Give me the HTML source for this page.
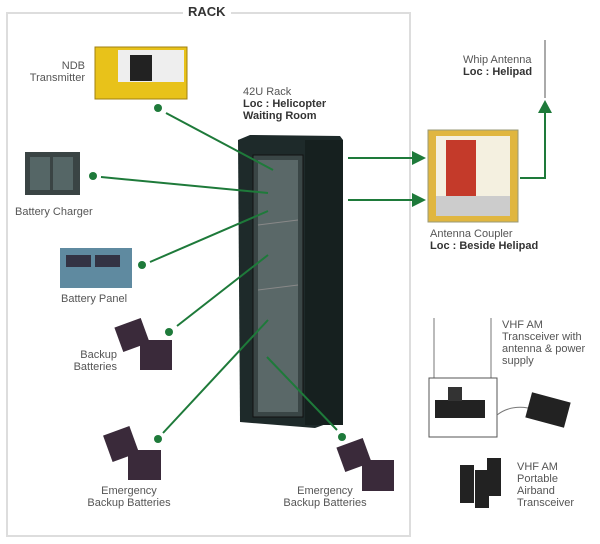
<!DOCTYPE html>
<html><head><style>
body{margin:0;width:600px;height:544px;background:#fff;font-family:"Liberation Sans",sans-serif;position:relative;overflow:hidden}
.t{position:absolute;font-size:11px;color:#555;line-height:12px}
.b{font-weight:bold;color:#333}
.a{position:absolute}
</style></head><body>
<div class="a" style="left:6px;top:12px;width:401px;height:521px;border:2px solid #ddd"></div>
<div class="a" style="left:183px;top:4px;padding:0 5px;background:#fff;font-weight:bold;font-size:13px;color:#333">RACK</div>
<svg class="a" style="left:0;top:0" width="600" height="544">
<!-- rack cabinet -->
<polygon points="238,140 250,135 340,136 343,140 343,418 315,428 240,422" fill="#1e2a2a"/>
<rect x="253" y="155" width="50" height="262" fill="#3a4646" stroke="#111"/>
<rect x="258" y="160" width="40" height="252" fill="#5a6868"/>
<line x1="258" y1="225" x2="298" y2="220" stroke="#888"/>
<line x1="258" y1="290" x2="298" y2="285" stroke="#888"/>
<rect x="305" y="140" width="38" height="285" fill="#16201f"/>
<!-- NDB -->
<rect x="95" y="47" width="92" height="52" fill="#e8c21a" stroke="#a08010"/>
<rect x="118" y="50" width="66" height="32" fill="#eee"/>
<rect x="130" y="55" width="22" height="26" fill="#222"/>
<!-- charger -->
<rect x="25" y="152" width="55" height="43" fill="#3a4444"/>
<rect x="30" y="157" width="20" height="33" fill="#566"/><rect x="53" y="157" width="20" height="33" fill="#566"/>
<!-- battery panel -->
<rect x="60" y="248" width="72" height="40" fill="#5f8aa0"/>
<rect x="66" y="255" width="25" height="12" fill="#334"/><rect x="95" y="255" width="25" height="12" fill="#334"/>
<!-- batteries -->
<g fill="#3a2a3a"><rect x="118" y="322" width="28" height="26" transform="rotate(-20 132 335)"/><rect x="140" y="340" width="32" height="30"/>
<rect x="107" y="430" width="28" height="28" transform="rotate(-20 121 444)"/><rect x="128" y="450" width="33" height="30"/>
<rect x="340" y="442" width="28" height="26" transform="rotate(-20 354 455)"/><rect x="362" y="460" width="32" height="31"/></g>
<!-- green lines -->
<g stroke="#1e7a3a" stroke-width="2" fill="none">
<line x1="166" y1="113" x2="273" y2="170"/>
<line x1="101" y1="177" x2="268" y2="193"/>
<line x1="150" y1="262" x2="268" y2="211"/>
<line x1="177" y1="326" x2="268" y2="255"/>
<line x1="163" y1="433" x2="268" y2="320"/>
<line x1="337" y1="430" x2="267" y2="357"/>
<line x1="348" y1="158" x2="412" y2="158"/>
<line x1="348" y1="200" x2="412" y2="200"/>
<polyline points="520,178 545,178 545,112"/>
</g>
<g fill="#1e7a3a">
<circle cx="158" cy="108" r="4"/><circle cx="93" cy="176" r="4"/><circle cx="142" cy="265" r="4"/>
<circle cx="169" cy="332" r="4"/><circle cx="158" cy="439" r="4"/><circle cx="342" cy="437" r="4"/>
<polygon points="412,151 426,158 412,165"/><polygon points="412,193 426,200 412,207"/>
<polygon points="538,113 545,100 552,113"/>
</g>
<!-- whip antenna -->
<line x1="545" y1="40" x2="545" y2="98" stroke="#aaa" stroke-width="2"/>
<!-- coupler -->
<rect x="428" y="130" width="90" height="92" fill="#e0b640" stroke="#997"/>
<rect x="436" y="136" width="74" height="60" fill="#f4f0e0"/>
<rect x="446" y="140" width="30" height="56" fill="#c43a2a"/>
<rect x="436" y="196" width="74" height="20" fill="#ccc"/>
<!-- VHF -->
<line x1="434" y1="318" x2="434" y2="378" stroke="#bbb" stroke-width="2"/>
<line x1="491" y1="318" x2="491" y2="378" stroke="#bbb" stroke-width="2"/>
<rect x="429" y="378" width="68" height="59" fill="#fff" stroke="#555"/>
<rect x="435" y="400" width="50" height="18" fill="#222"/>
<rect x="448" y="387" width="14" height="14" fill="#333"/>
<path d="M497 415 Q510 405 528 408" stroke="#777" fill="none"/>
<rect x="528" y="397" width="40" height="26" fill="#222" transform="rotate(15 548 410)"/>
<g fill="#222"><rect x="460" y="465" width="14" height="38"/><rect x="475" y="470" width="14" height="38"/><rect x="487" y="458" width="14" height="38"/></g>
</svg>
<div class="t" style="left:20px;top:60px;width:65px;text-align:right">NDB<br>Transmitter</div>
<div class="t" style="left:243px;top:86px">42U Rack<br><span class="b">Loc : Helicopter<br>Waiting Room</span></div>
<div class="t" style="left:15px;top:206px">Battery Charger</div>
<div class="t" style="left:61px;top:293px">Battery Panel</div>
<div class="t" style="left:60px;top:349px;text-align:right;width:57px">Backup<br>Batteries</div>
<div class="t" style="left:79px;top:485px;text-align:center;width:100px">Emergency<br>Backup Batteries</div>
<div class="t" style="left:275px;top:485px;text-align:center;width:100px">Emergency<br>Backup Batteries</div>
<div class="t" style="left:463px;top:54px">Whip Antenna<br><span class="b">Loc : Helipad</span></div>
<div class="t" style="left:430px;top:228px">Antenna Coupler<br><span class="b">Loc : Beside Helipad</span></div>
<div class="t" style="left:502px;top:319px">VHF AM<br>Transceiver with<br>antenna &amp; power<br>supply</div>
<div class="t" style="left:517px;top:461px">VHF AM<br>Portable<br>Airband<br>Transceiver</div>
</body></html>
